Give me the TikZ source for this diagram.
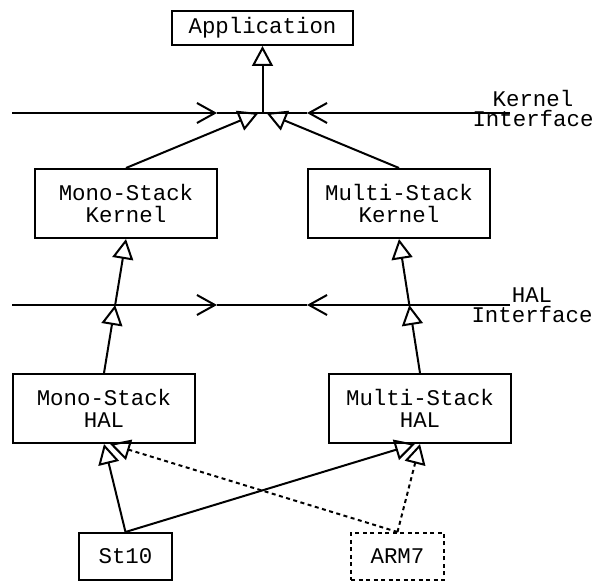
\documentclass[tikz,border=0pt]{standalone}
\usepackage{fontspec}
\setmonofont{Liberation Mono}
\usetikzlibrary{arrows.meta}
\begin{document}
\begin{tikzpicture}[x=1pt,y=1pt,line width=2pt,
  font=\ttfamily\fontsize{22.4}{22}\selectfont,
  box/.style={draw,align=center,inner sep=0pt,minimum width=182pt,minimum height=69pt},
  cpu/.style={draw,inner sep=0pt,minimum width=93pt,minimum height=47pt},
  iface/.style={align=center,inner sep=0pt,font=\ttfamily\fontsize{22.4}{20.5}\selectfont},
  real/.style={-{Triangle[open,length=20pt,width=21pt]}},
  barb/.style={-{Straight Barb[length=18pt,width=20pt]}},
  opt/.style={dash pattern=on 4pt off 3.5pt}]
 \useasboundingbox (0,0) rectangle (595,581);
 \node[draw,inner sep=0pt,minimum width=181pt,minimum height=34pt] (app) at (262.5,553) {Application};
 \node[box] (monok) at (126,377.5) {Mono-Stack\\Kernel};
 \node[box] (multik) at (399,377.5) {Multi-Stack\\Kernel};
 \node[box] (monoh) at (104,172.5) {Mono-Stack\\HAL};
 \node[box] (multih) at (420,172.5) {Multi-Stack\\HAL};
 \node[cpu] (st) at (125.5,24.5) {St10};
 \node[cpu,opt] (arm) at (397.5,24.5) {ARM7};
 % kernel interface line
 \coordinate (kl) at (12,468); \coordinate (kr) at (510,468);
 \coordinate (ka) at (217,468); \coordinate (kb) at (307,468);
 \coordinate (kj) at (app.south |- kl);
 \draw[barb] (kl) -- (ka); \draw (ka) -- (kj);
 \draw[barb] (kr) -- (kb); \draw (kb) -- (kj);
 \node[iface,anchor=base] (kname) at (533,454.3) {Kernel\\Interface};
 \draw[real] (kj) -- (app);
 \draw[real] (monok.north) -- ([xshift=-4pt]kj);
 \draw[real] (multik.north) -- ([xshift=4pt]kj);
 % HAL interface line
 \coordinate (hl) at (12,276); \coordinate (hr) at (510,276);
 \coordinate (ha) at (217,276); \coordinate (hb) at (307,276);
 \draw[barb] (hl) -- (ha); \draw (ha) -- (hb);
 \draw[barb] (hr) -- (hb);
 \node[iface,anchor=base] (hname) at (532,258) {HAL\\Interface};
 \coordinate (hj1) at (intersection of monoh.north--monok.south and hl--hr);
 \coordinate (hj2) at (intersection of multih.north--multik.south and hl--hr);
 \draw[real] (monoh.north) -- (hj1); \draw[real] (hj1) -- (monok.south);
 \draw[real] (multih.north) -- (hj2); \draw[real] (hj2) -- (multik.south);
 % chips
 \draw[real] (st.north) -- (monoh.south);
 \draw[real] (st.north) -- ([xshift=-5pt]multih.south);
 \draw[real,opt] (arm.north) -- ([xshift=6pt]monoh.south);
 \draw[real,opt] (arm.north) -- (multih.south);
\end{tikzpicture}
\end{document}
